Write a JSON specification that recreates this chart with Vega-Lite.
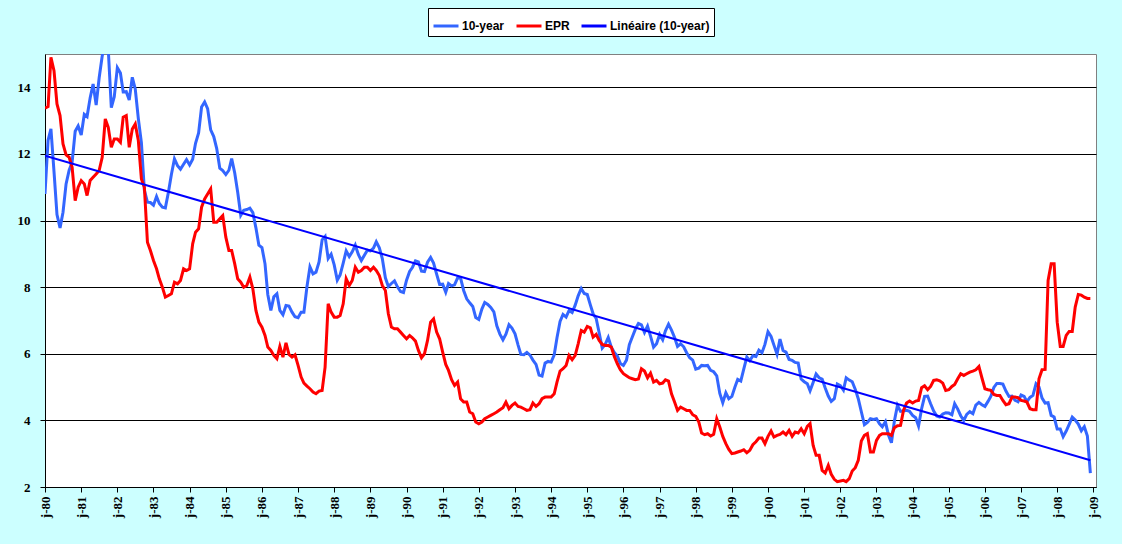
{
  "$schema": "https://vega.github.io/schema/vega-lite/v6.json",
  "description": "10-year rate vs EPR, monthly, with linear trend of the 10-year.",
  "autosize": {"type": "none"},
  "padding": {"left": 45, "top": 54, "right": 26, "bottom": 57},
  "width": 1051,
  "height": 433,
  "background": "#CCFFFF",
  "config": {
    "view": {"stroke": "#808080", "fill": "white"}
  },
  "data": {
    "format": {"parse": {"date": "utc:'%Y-%m'"}},
    "values": [
      {"date": "1980-01", "ten": 10.80, "epr": 13.37},
      {"date": "1980-02", "ten": 12.41, "epr": 13.42},
      {"date": "1980-03", "ten": 12.75, "epr": 14.9},
      {"date": "1980-04", "ten": 11.47, "epr": 14.5},
      {"date": "1980-05", "ten": 10.18, "epr": 13.5},
      {"date": "1980-06", "ten": 9.78, "epr": 13.15},
      {"date": "1980-07", "ten": 10.25, "epr": 12.3},
      {"date": "1980-08", "ten": 11.10, "epr": 11.97},
      {"date": "1980-09", "ten": 11.51, "epr": 11.9},
      {"date": "1980-10", "ten": 11.75, "epr": 11.6},
      {"date": "1980-11", "ten": 12.68, "epr": 10.6},
      {"date": "1980-12", "ten": 12.84, "epr": 11.0},
      {"date": "1981-01", "ten": 12.57, "epr": 11.2},
      {"date": "1981-02", "ten": 13.19, "epr": 11.1},
      {"date": "1981-03", "ten": 13.12, "epr": 10.75},
      {"date": "1981-04", "ten": 13.68, "epr": 11.2},
      {"date": "1981-05", "ten": 14.10, "epr": 11.3},
      {"date": "1981-06", "ten": 13.47, "epr": 11.4},
      {"date": "1981-07", "ten": 14.28, "epr": 11.5},
      {"date": "1981-08", "ten": 14.94, "epr": 11.9},
      {"date": "1981-09", "ten": 15.32, "epr": 13.05},
      {"date": "1981-10", "ten": 15.15, "epr": 12.8},
      {"date": "1981-11", "ten": 13.39, "epr": 12.2},
      {"date": "1981-12", "ten": 13.72, "epr": 12.45},
      {"date": "1982-01", "ten": 14.59, "epr": 12.45},
      {"date": "1982-02", "ten": 14.43, "epr": 12.35},
      {"date": "1982-03", "ten": 13.86, "epr": 13.1},
      {"date": "1982-04", "ten": 13.87, "epr": 13.15},
      {"date": "1982-05", "ten": 13.62, "epr": 12.2},
      {"date": "1982-06", "ten": 14.30, "epr": 12.75},
      {"date": "1982-07", "ten": 13.95, "epr": 12.9},
      {"date": "1982-08", "ten": 13.06, "epr": 12.4},
      {"date": "1982-09", "ten": 12.34, "epr": 11.25},
      {"date": "1982-10", "ten": 10.91, "epr": 11.0},
      {"date": "1982-11", "ten": 10.55, "epr": 9.35},
      {"date": "1982-12", "ten": 10.54, "epr": 9.1},
      {"date": "1983-01", "ten": 10.46, "epr": 8.8},
      {"date": "1983-02", "ten": 10.72, "epr": 8.55},
      {"date": "1983-03", "ten": 10.51, "epr": 8.25},
      {"date": "1983-04", "ten": 10.40, "epr": 8.0},
      {"date": "1983-05", "ten": 10.38, "epr": 7.7},
      {"date": "1983-06", "ten": 10.85, "epr": 7.75},
      {"date": "1983-07", "ten": 11.38, "epr": 7.8},
      {"date": "1983-08", "ten": 11.85, "epr": 8.15},
      {"date": "1983-09", "ten": 11.65, "epr": 8.1},
      {"date": "1983-10", "ten": 11.54, "epr": 8.2},
      {"date": "1983-11", "ten": 11.69, "epr": 8.55},
      {"date": "1983-12", "ten": 11.83, "epr": 8.5},
      {"date": "1984-01", "ten": 11.67, "epr": 8.55},
      {"date": "1984-02", "ten": 11.84, "epr": 9.3},
      {"date": "1984-03", "ten": 12.32, "epr": 9.65},
      {"date": "1984-04", "ten": 12.63, "epr": 9.75},
      {"date": "1984-05", "ten": 13.41, "epr": 10.4},
      {"date": "1984-06", "ten": 13.56, "epr": 10.65},
      {"date": "1984-07", "ten": 13.36, "epr": 10.8},
      {"date": "1984-08", "ten": 12.72, "epr": 10.95},
      {"date": "1984-09", "ten": 12.52, "epr": 9.95},
      {"date": "1984-10", "ten": 12.16, "epr": 9.95},
      {"date": "1984-11", "ten": 11.57, "epr": 10.05},
      {"date": "1984-12", "ten": 11.50, "epr": 10.15},
      {"date": "1985-01", "ten": 11.38, "epr": 9.5},
      {"date": "1985-02", "ten": 11.51, "epr": 9.1},
      {"date": "1985-03", "ten": 11.86, "epr": 9.1},
      {"date": "1985-04", "ten": 11.43, "epr": 8.7},
      {"date": "1985-05", "ten": 10.85, "epr": 8.25},
      {"date": "1985-06", "ten": 10.16, "epr": 8.15},
      {"date": "1985-07", "ten": 10.31, "epr": 8.0},
      {"date": "1985-08", "ten": 10.33, "epr": 8.05},
      {"date": "1985-09", "ten": 10.37, "epr": 8.3},
      {"date": "1985-10", "ten": 10.24, "epr": 7.95},
      {"date": "1985-11", "ten": 9.78, "epr": 7.3},
      {"date": "1985-12", "ten": 9.26, "epr": 6.95},
      {"date": "1986-01", "ten": 9.19, "epr": 6.8},
      {"date": "1986-02", "ten": 8.70, "epr": 6.55},
      {"date": "1986-03", "ten": 7.78, "epr": 6.2},
      {"date": "1986-04", "ten": 7.30, "epr": 6.1},
      {"date": "1986-05", "ten": 7.71, "epr": 5.95},
      {"date": "1986-06", "ten": 7.80, "epr": 5.85},
      {"date": "1986-07", "ten": 7.30, "epr": 6.22},
      {"date": "1986-08", "ten": 7.17, "epr": 5.9},
      {"date": "1986-09", "ten": 7.45, "epr": 6.33},
      {"date": "1986-10", "ten": 7.43, "epr": 5.98},
      {"date": "1986-11", "ten": 7.25, "epr": 5.9},
      {"date": "1986-12", "ten": 7.11, "epr": 5.97},
      {"date": "1987-01", "ten": 7.08, "epr": 5.65},
      {"date": "1987-02", "ten": 7.25, "epr": 5.3},
      {"date": "1987-03", "ten": 7.25, "epr": 5.12},
      {"date": "1987-04", "ten": 8.02, "epr": 5.03},
      {"date": "1987-05", "ten": 8.61, "epr": 4.95},
      {"date": "1987-06", "ten": 8.40, "epr": 4.85},
      {"date": "1987-07", "ten": 8.45, "epr": 4.8},
      {"date": "1987-08", "ten": 8.76, "epr": 4.88},
      {"date": "1987-09", "ten": 9.42, "epr": 4.9},
      {"date": "1987-10", "ten": 9.52, "epr": 5.6},
      {"date": "1987-11", "ten": 8.86, "epr": 7.5},
      {"date": "1987-12", "ten": 8.99, "epr": 7.25},
      {"date": "1988-01", "ten": 8.67, "epr": 7.1},
      {"date": "1988-02", "ten": 8.21, "epr": 7.1},
      {"date": "1988-03", "ten": 8.37, "epr": 7.15},
      {"date": "1988-04", "ten": 8.72, "epr": 7.5},
      {"date": "1988-05", "ten": 9.09, "epr": 8.25},
      {"date": "1988-06", "ten": 8.92, "epr": 8.05},
      {"date": "1988-07", "ten": 9.06, "epr": 8.2},
      {"date": "1988-08", "ten": 9.26, "epr": 8.6},
      {"date": "1988-09", "ten": 8.98, "epr": 8.45},
      {"date": "1988-10", "ten": 8.80, "epr": 8.5},
      {"date": "1988-11", "ten": 8.96, "epr": 8.6},
      {"date": "1988-12", "ten": 9.11, "epr": 8.6},
      {"date": "1989-01", "ten": 9.09, "epr": 8.5},
      {"date": "1989-02", "ten": 9.17, "epr": 8.6},
      {"date": "1989-03", "ten": 9.36, "epr": 8.5},
      {"date": "1989-04", "ten": 9.18, "epr": 8.35},
      {"date": "1989-05", "ten": 8.86, "epr": 8.05},
      {"date": "1989-06", "ten": 8.28, "epr": 7.9},
      {"date": "1989-07", "ten": 8.02, "epr": 7.2},
      {"date": "1989-08", "ten": 8.11, "epr": 6.8},
      {"date": "1989-09", "ten": 8.19, "epr": 6.75},
      {"date": "1989-10", "ten": 8.01, "epr": 6.75},
      {"date": "1989-11", "ten": 7.87, "epr": 6.65},
      {"date": "1989-12", "ten": 7.84, "epr": 6.55},
      {"date": "1990-01", "ten": 8.21, "epr": 6.45},
      {"date": "1990-02", "ten": 8.47, "epr": 6.55},
      {"date": "1990-03", "ten": 8.59, "epr": 6.48},
      {"date": "1990-04", "ten": 8.79, "epr": 6.38},
      {"date": "1990-05", "ten": 8.76, "epr": 6.1},
      {"date": "1990-06", "ten": 8.48, "epr": 5.88},
      {"date": "1990-07", "ten": 8.47, "epr": 6.0},
      {"date": "1990-08", "ten": 8.75, "epr": 6.4},
      {"date": "1990-09", "ten": 8.89, "epr": 6.95},
      {"date": "1990-10", "ten": 8.72, "epr": 7.05},
      {"date": "1990-11", "ten": 8.39, "epr": 6.65},
      {"date": "1990-12", "ten": 8.08, "epr": 6.45},
      {"date": "1991-01", "ten": 8.09, "epr": 6.05},
      {"date": "1991-02", "ten": 7.85, "epr": 5.68},
      {"date": "1991-03", "ten": 8.11, "epr": 5.5},
      {"date": "1991-04", "ten": 8.04, "epr": 5.22},
      {"date": "1991-05", "ten": 8.07, "epr": 5.05},
      {"date": "1991-06", "ten": 8.28, "epr": 5.15},
      {"date": "1991-07", "ten": 8.27, "epr": 4.65},
      {"date": "1991-08", "ten": 7.90, "epr": 4.55},
      {"date": "1991-09", "ten": 7.65, "epr": 4.55},
      {"date": "1991-10", "ten": 7.53, "epr": 4.25},
      {"date": "1991-11", "ten": 7.42, "epr": 4.2},
      {"date": "1991-12", "ten": 7.09, "epr": 3.95},
      {"date": "1992-01", "ten": 7.03, "epr": 3.9},
      {"date": "1992-02", "ten": 7.34, "epr": 3.95},
      {"date": "1992-03", "ten": 7.54, "epr": 4.05},
      {"date": "1992-04", "ten": 7.48, "epr": 4.1},
      {"date": "1992-05", "ten": 7.39, "epr": 4.15},
      {"date": "1992-06", "ten": 7.26, "epr": 4.2},
      {"date": "1992-07", "ten": 6.84, "epr": 4.25},
      {"date": "1992-08", "ten": 6.59, "epr": 4.32},
      {"date": "1992-09", "ten": 6.42, "epr": 4.38},
      {"date": "1992-10", "ten": 6.59, "epr": 4.55},
      {"date": "1992-11", "ten": 6.87, "epr": 4.35},
      {"date": "1992-12", "ten": 6.77, "epr": 4.45},
      {"date": "1993-01", "ten": 6.60, "epr": 4.52},
      {"date": "1993-02", "ten": 6.26, "epr": 4.42},
      {"date": "1993-03", "ten": 5.98, "epr": 4.4},
      {"date": "1993-04", "ten": 5.97, "epr": 4.35},
      {"date": "1993-05", "ten": 6.04, "epr": 4.3},
      {"date": "1993-06", "ten": 5.96, "epr": 4.32},
      {"date": "1993-07", "ten": 5.81, "epr": 4.52},
      {"date": "1993-08", "ten": 5.68, "epr": 4.42},
      {"date": "1993-09", "ten": 5.36, "epr": 4.5},
      {"date": "1993-10", "ten": 5.33, "epr": 4.65},
      {"date": "1993-11", "ten": 5.72, "epr": 4.7},
      {"date": "1993-12", "ten": 5.77, "epr": 4.7},
      {"date": "1994-01", "ten": 5.75, "epr": 4.7},
      {"date": "1994-02", "ten": 5.97, "epr": 4.8},
      {"date": "1994-03", "ten": 6.48, "epr": 5.15},
      {"date": "1994-04", "ten": 6.97, "epr": 5.48},
      {"date": "1994-05", "ten": 7.18, "epr": 5.55},
      {"date": "1994-06", "ten": 7.10, "epr": 5.65},
      {"date": "1994-07", "ten": 7.30, "epr": 5.95},
      {"date": "1994-08", "ten": 7.24, "epr": 5.82},
      {"date": "1994-09", "ten": 7.46, "epr": 5.95},
      {"date": "1994-10", "ten": 7.74, "epr": 6.3},
      {"date": "1994-11", "ten": 7.96, "epr": 6.7},
      {"date": "1994-12", "ten": 7.81, "epr": 6.65},
      {"date": "1995-01", "ten": 7.78, "epr": 6.82},
      {"date": "1995-02", "ten": 7.47, "epr": 6.78},
      {"date": "1995-03", "ten": 7.20, "epr": 6.5},
      {"date": "1995-04", "ten": 7.06, "epr": 6.58},
      {"date": "1995-05", "ten": 6.63, "epr": 6.4},
      {"date": "1995-06", "ten": 6.17, "epr": 6.28},
      {"date": "1995-07", "ten": 6.28, "epr": 6.25},
      {"date": "1995-08", "ten": 6.49, "epr": 6.25},
      {"date": "1995-09", "ten": 6.20, "epr": 6.2},
      {"date": "1995-10", "ten": 6.04, "epr": 5.92},
      {"date": "1995-11", "ten": 5.93, "epr": 5.7},
      {"date": "1995-12", "ten": 5.71, "epr": 5.52},
      {"date": "1996-01", "ten": 5.65, "epr": 5.4},
      {"date": "1996-02", "ten": 5.81, "epr": 5.34},
      {"date": "1996-03", "ten": 6.27, "epr": 5.28},
      {"date": "1996-04", "ten": 6.51, "epr": 5.25},
      {"date": "1996-05", "ten": 6.74, "epr": 5.22},
      {"date": "1996-06", "ten": 6.91, "epr": 5.24},
      {"date": "1996-07", "ten": 6.87, "epr": 5.55},
      {"date": "1996-08", "ten": 6.64, "epr": 5.48},
      {"date": "1996-09", "ten": 6.83, "epr": 5.28},
      {"date": "1996-10", "ten": 6.53, "epr": 5.42},
      {"date": "1996-11", "ten": 6.20, "epr": 5.15},
      {"date": "1996-12", "ten": 6.30, "epr": 5.2},
      {"date": "1997-01", "ten": 6.58, "epr": 5.1},
      {"date": "1997-02", "ten": 6.42, "epr": 5.12},
      {"date": "1997-03", "ten": 6.69, "epr": 5.22},
      {"date": "1997-04", "ten": 6.89, "epr": 5.18},
      {"date": "1997-05", "ten": 6.71, "epr": 4.8},
      {"date": "1997-06", "ten": 6.49, "epr": 4.55},
      {"date": "1997-07", "ten": 6.22, "epr": 4.3},
      {"date": "1997-08", "ten": 6.30, "epr": 4.4},
      {"date": "1997-09", "ten": 6.21, "epr": 4.35},
      {"date": "1997-10", "ten": 6.03, "epr": 4.3},
      {"date": "1997-11", "ten": 5.88, "epr": 4.3},
      {"date": "1997-12", "ten": 5.81, "epr": 4.17},
      {"date": "1998-01", "ten": 5.54, "epr": 4.12},
      {"date": "1998-02", "ten": 5.57, "epr": 3.95},
      {"date": "1998-03", "ten": 5.65, "epr": 3.62},
      {"date": "1998-04", "ten": 5.64, "epr": 3.57},
      {"date": "1998-05", "ten": 5.65, "epr": 3.6},
      {"date": "1998-06", "ten": 5.50, "epr": 3.53},
      {"date": "1998-07", "ten": 5.46, "epr": 3.58},
      {"date": "1998-08", "ten": 5.34, "epr": 4.05},
      {"date": "1998-09", "ten": 4.81, "epr": 3.8},
      {"date": "1998-10", "ten": 4.53, "epr": 3.52},
      {"date": "1998-11", "ten": 4.83, "epr": 3.3},
      {"date": "1998-12", "ten": 4.65, "epr": 3.13},
      {"date": "1999-01", "ten": 4.72, "epr": 3.0},
      {"date": "1999-02", "ten": 5.00, "epr": 3.02},
      {"date": "1999-03", "ten": 5.23, "epr": 3.05},
      {"date": "1999-04", "ten": 5.18, "epr": 3.08},
      {"date": "1999-05", "ten": 5.54, "epr": 3.12},
      {"date": "1999-06", "ten": 5.90, "epr": 3.03},
      {"date": "1999-07", "ten": 5.79, "epr": 3.1},
      {"date": "1999-08", "ten": 5.94, "epr": 3.27},
      {"date": "1999-09", "ten": 5.92, "epr": 3.36},
      {"date": "1999-10", "ten": 6.11, "epr": 3.47},
      {"date": "1999-11", "ten": 6.03, "epr": 3.47},
      {"date": "1999-12", "ten": 6.28, "epr": 3.3},
      {"date": "2000-01", "ten": 6.66, "epr": 3.52},
      {"date": "2000-02", "ten": 6.52, "epr": 3.68},
      {"date": "2000-03", "ten": 6.26, "epr": 3.5},
      {"date": "2000-04", "ten": 5.99, "epr": 3.55},
      {"date": "2000-05", "ten": 6.44, "epr": 3.58},
      {"date": "2000-06", "ten": 6.10, "epr": 3.65},
      {"date": "2000-07", "ten": 6.05, "epr": 3.57},
      {"date": "2000-08", "ten": 5.83, "epr": 3.7},
      {"date": "2000-09", "ten": 5.80, "epr": 3.52},
      {"date": "2000-10", "ten": 5.74, "epr": 3.65},
      {"date": "2000-11", "ten": 5.72, "epr": 3.62},
      {"date": "2000-12", "ten": 5.24, "epr": 3.75},
      {"date": "2001-01", "ten": 5.16, "epr": 3.6},
      {"date": "2001-02", "ten": 5.10, "epr": 3.82},
      {"date": "2001-03", "ten": 4.89, "epr": 3.9},
      {"date": "2001-04", "ten": 5.14, "epr": 3.25},
      {"date": "2001-05", "ten": 5.39, "epr": 2.95},
      {"date": "2001-06", "ten": 5.28, "epr": 2.95},
      {"date": "2001-07", "ten": 5.24, "epr": 2.5},
      {"date": "2001-08", "ten": 4.97, "epr": 2.42},
      {"date": "2001-09", "ten": 4.73, "epr": 2.65},
      {"date": "2001-10", "ten": 4.57, "epr": 2.38},
      {"date": "2001-11", "ten": 4.65, "epr": 2.23},
      {"date": "2001-12", "ten": 5.09, "epr": 2.16},
      {"date": "2002-01", "ten": 5.04, "epr": 2.18},
      {"date": "2002-02", "ten": 4.91, "epr": 2.2},
      {"date": "2002-03", "ten": 5.28, "epr": 2.16},
      {"date": "2002-04", "ten": 5.21, "epr": 2.25},
      {"date": "2002-05", "ten": 5.16, "epr": 2.48},
      {"date": "2002-06", "ten": 4.93, "epr": 2.58},
      {"date": "2002-07", "ten": 4.65, "epr": 2.8},
      {"date": "2002-08", "ten": 4.26, "epr": 3.38},
      {"date": "2002-09", "ten": 3.87, "epr": 3.55},
      {"date": "2002-10", "ten": 3.94, "epr": 3.6},
      {"date": "2002-11", "ten": 4.05, "epr": 3.05},
      {"date": "2002-12", "ten": 4.03, "epr": 3.05},
      {"date": "2003-01", "ten": 4.05, "epr": 3.4},
      {"date": "2003-02", "ten": 3.90, "epr": 3.55},
      {"date": "2003-03", "ten": 3.81, "epr": 3.6},
      {"date": "2003-04", "ten": 3.96, "epr": 3.6},
      {"date": "2003-05", "ten": 3.57, "epr": 3.6},
      {"date": "2003-06", "ten": 3.33, "epr": 3.55},
      {"date": "2003-07", "ten": 3.98, "epr": 3.78},
      {"date": "2003-08", "ten": 4.45, "epr": 3.84},
      {"date": "2003-09", "ten": 4.27, "epr": 3.85},
      {"date": "2003-10", "ten": 4.29, "epr": 4.3},
      {"date": "2003-11", "ten": 4.30, "epr": 4.52},
      {"date": "2003-12", "ten": 4.27, "epr": 4.58},
      {"date": "2004-01", "ten": 4.15, "epr": 4.52},
      {"date": "2004-02", "ten": 4.08, "epr": 4.58},
      {"date": "2004-03", "ten": 3.83, "epr": 4.6},
      {"date": "2004-04", "ten": 4.35, "epr": 4.98},
      {"date": "2004-05", "ten": 4.72, "epr": 5.04},
      {"date": "2004-06", "ten": 4.73, "epr": 4.92},
      {"date": "2004-07", "ten": 4.50, "epr": 5.02},
      {"date": "2004-08", "ten": 4.28, "epr": 5.2},
      {"date": "2004-09", "ten": 4.13, "epr": 5.22},
      {"date": "2004-10", "ten": 4.10, "epr": 5.19},
      {"date": "2004-11", "ten": 4.19, "epr": 5.12},
      {"date": "2004-12", "ten": 4.23, "epr": 4.9},
      {"date": "2005-01", "ten": 4.22, "epr": 4.92},
      {"date": "2005-02", "ten": 4.17, "epr": 5.02},
      {"date": "2005-03", "ten": 4.50, "epr": 5.08},
      {"date": "2005-04", "ten": 4.34, "epr": 5.25},
      {"date": "2005-05", "ten": 4.14, "epr": 5.4},
      {"date": "2005-06", "ten": 4.00, "epr": 5.35},
      {"date": "2005-07", "ten": 4.18, "epr": 5.4},
      {"date": "2005-08", "ten": 4.26, "epr": 5.45},
      {"date": "2005-09", "ten": 4.20, "epr": 5.48},
      {"date": "2005-10", "ten": 4.46, "epr": 5.52},
      {"date": "2005-11", "ten": 4.54, "epr": 5.62},
      {"date": "2005-12", "ten": 4.47, "epr": 5.28},
      {"date": "2006-01", "ten": 4.42, "epr": 4.95},
      {"date": "2006-02", "ten": 4.57, "epr": 4.92},
      {"date": "2006-03", "ten": 4.72, "epr": 4.9},
      {"date": "2006-04", "ten": 4.99, "epr": 4.78},
      {"date": "2006-05", "ten": 5.11, "epr": 4.75},
      {"date": "2006-06", "ten": 5.11, "epr": 4.75},
      {"date": "2006-07", "ten": 5.09, "epr": 4.6},
      {"date": "2006-08", "ten": 4.88, "epr": 4.47},
      {"date": "2006-09", "ten": 4.72, "epr": 4.5},
      {"date": "2006-10", "ten": 4.73, "epr": 4.7},
      {"date": "2006-11", "ten": 4.60, "epr": 4.7},
      {"date": "2006-12", "ten": 4.56, "epr": 4.68},
      {"date": "2007-01", "ten": 4.76, "epr": 4.6},
      {"date": "2007-02", "ten": 4.72, "epr": 4.58},
      {"date": "2007-03", "ten": 4.56, "epr": 4.55},
      {"date": "2007-04", "ten": 4.69, "epr": 4.35},
      {"date": "2007-05", "ten": 4.75, "epr": 4.32},
      {"date": "2007-06", "ten": 5.10, "epr": 4.32},
      {"date": "2007-07", "ten": 5.00, "epr": 5.25},
      {"date": "2007-08", "ten": 4.67, "epr": 5.52},
      {"date": "2007-09", "ten": 4.52, "epr": 5.53},
      {"date": "2007-10", "ten": 4.53, "epr": 8.2},
      {"date": "2007-11", "ten": 4.15, "epr": 8.7},
      {"date": "2007-12", "ten": 4.10, "epr": 8.7},
      {"date": "2008-01", "ten": 3.74, "epr": 6.95},
      {"date": "2008-02", "ten": 3.74, "epr": 6.22},
      {"date": "2008-03", "ten": 3.51, "epr": 6.22},
      {"date": "2008-04", "ten": 3.68, "epr": 6.55},
      {"date": "2008-05", "ten": 3.88, "epr": 6.67},
      {"date": "2008-06", "ten": 4.10, "epr": 6.67},
      {"date": "2008-07", "ten": 4.01, "epr": 7.4},
      {"date": "2008-08", "ten": 3.89, "epr": 7.78},
      {"date": "2008-09", "ten": 3.69, "epr": 7.76},
      {"date": "2008-10", "ten": 3.81, "epr": 7.7},
      {"date": "2008-11", "ten": 3.53, "epr": 7.66},
      {"date": "2008-12", "ten": 2.42, "epr": 7.66}
    ]
  },
  "encoding": {
    "x": {
      "field": "date",
      "type": "temporal",
      "scale": {
        "type": "utc",
        "domain": [
          {"year": 1980, "month": 1, "date": 1, "utc": true},
          {"year": 2009, "month": 1, "date": 27, "utc": true}
        ]
      },
      "axis": {
        "title": null,
        "grid": false,
        "tickCount": {"interval": "year", "step": 1},
        "labelExpr": "'j-' + utcFormat(datum.value, '%y')",
        "labelAngle": 270,
        "labelFont": "Liberation Serif",
        "labelFontWeight": "bold",
        "labelFontSize": 13,
        "labelColor": "black",
        "labelPadding": 4,
        "labelOverlap": false,
        "tickSize": 5,
        "tickColor": "black",
        "domainColor": "black"
      }
    }
  },
  "layer": [
    {
      "mark": {"type": "line", "strokeWidth": 3, "clip": true},
      "encoding": {
        "y": {
          "field": "ten",
          "type": "quantitative",
          "title": null,
          "scale": {"domain": [2, 15], "nice": false, "zero": false},
          "axis": {
            "values": [2, 4, 6, 8, 10, 12, 14],
            "grid": true,
            "gridColor": "black",
            "gridOpacity": 1,
            "labelFont": "Liberation Serif",
            "labelFontWeight": "bold",
            "labelFontSize": 13,
            "labelColor": "black",
            "labelPadding": 10,
            "tickSize": 5,
            "tickColor": "black",
            "domainColor": "black"
          }
        },
        "color": {
          "datum": "10-year",
          "scale": {
            "domain": ["10-year", "EPR", "Linéaire (10-year)"],
            "range": ["#3366FF", "#FF0000", "#0000FF"]
          },
          "legend": {
            "title": null,
            "orient": "none",
            "legendX": 383,
            "legendY": -46,
            "direction": "horizontal",
            "symbolType": "stroke",
            "symbolSize": 625,
            "symbolStrokeWidth": 3,
            "labelFont": "Liberation Sans",
            "labelFontWeight": "bold",
            "labelFontSize": 12,
            "labelColor": "black",
            "labelOffset": 2,
            "columnPadding": 5,
            "padding": 4,
            "fillColor": "white",
            "strokeColor": "black"
          }
        }
      }
    },
    {
      "mark": {"type": "line", "strokeWidth": 3, "clip": true},
      "encoding": {
        "y": {"field": "epr", "type": "quantitative", "title": null},
        "color": {"datum": "EPR"}
      }
    },
    {
      "transform": [{"regression": "ten", "on": "date"}],
      "mark": {"type": "line", "strokeWidth": 2, "clip": true},
      "encoding": {
        "y": {"field": "ten", "type": "quantitative", "title": null},
        "color": {"datum": "Linéaire (10-year)"}
      }
    }
  ]
}
